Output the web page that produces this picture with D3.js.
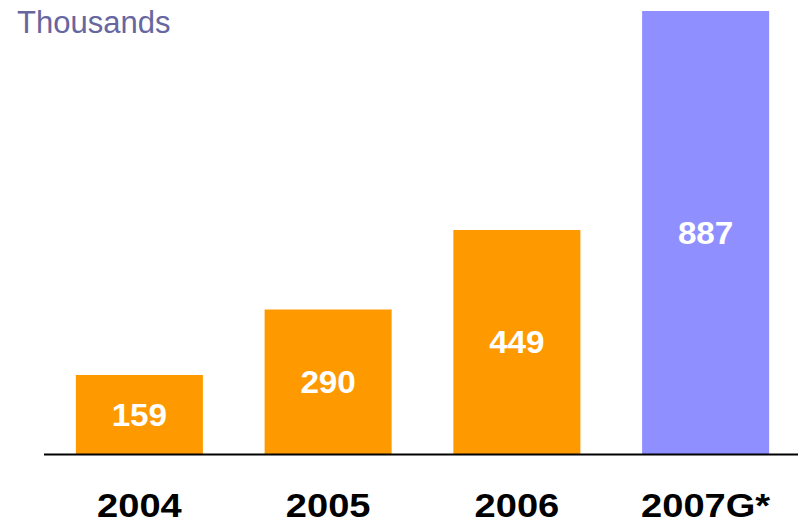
<!DOCTYPE html>
<html>
<head>
<meta charset="utf-8">
<script src="https://cdn.jsdelivr.net/npm/d3@7"></script>
<style>
  body { margin: 0; background: #fff; }
  svg { display: block; }
</style>
</head>
<body>
<div id="chart"></div>
<script>
const years = ['2004', '2005', '2006', '2007G*']
const values = [159, 290, 449, 887]
const barColors = ['#ff9900', '#ff9900', '#ff9900', '#8f8fff']
const unitLabel = 'Thousands'

const width = 798
const height = 525
const baseY = 454.5

const svg = d3.select('#chart')
  .append('svg')
  .attr('width', width)
  .attr('height', height)
  .style('font-family', 'Arial, "Liberation Sans", sans-serif')

const x = d3.scaleBand()
  .domain(years)
  .range([45, 800])
  .paddingInner(0.327)
  .paddingOuter(0.1635)

const y = d3.scaleLinear()
  .domain([0, 900])
  .range([baseY, 4.5])

// bars
svg.append('g')
  .selectAll('rect')
  .data(values)
  .join('rect')
  .attr('x', (d, i) => x(years[i]))
  .attr('y', d => y(d))
  .attr('width', x.bandwidth())
  .attr('height', d => baseY - y(d))
  .attr('fill', (d, i) => barColors[i])

// value labels inside bars
svg.append('g')
  .selectAll('text')
  .data(values)
  .join('text')
  .attr('transform', (d, i) => `translate(${x(years[i]) + x.bandwidth() / 2},${(y(d) + baseY) / 2}) scale(1.04,1)`)
  .attr('dy', '0.35em')
  .attr('text-anchor', 'middle')
  .attr('fill', '#fff')
  .style('font-size', '32px')
  .style('font-weight', 'bold')
  .text(d => d)

// baseline
svg.append('line')
  .attr('x1', 44)
  .attr('x2', width)
  .attr('y1', baseY)
  .attr('y2', baseY)
  .attr('stroke', '#000')
  .attr('stroke-width', 2)

// year labels
svg.append('g')
  .selectAll('text')
  .data(years)
  .join('text')
  .attr('transform', d => `translate(${x(d) + x.bandwidth() / 2},517) scale(1.12,1)`)
  .attr('text-anchor', 'middle')
  .attr('fill', '#000')
  .style('font-size', '34px')
  .style('font-weight', 'bold')
  .text(d => d)

// unit label
svg.append('text')
  .attr('x', 17)
  .attr('y', 33)
  .attr('fill', '#6666a0')
  .style('font-size', '31px')
  .text(unitLabel)
</script>
</body>
</html>
